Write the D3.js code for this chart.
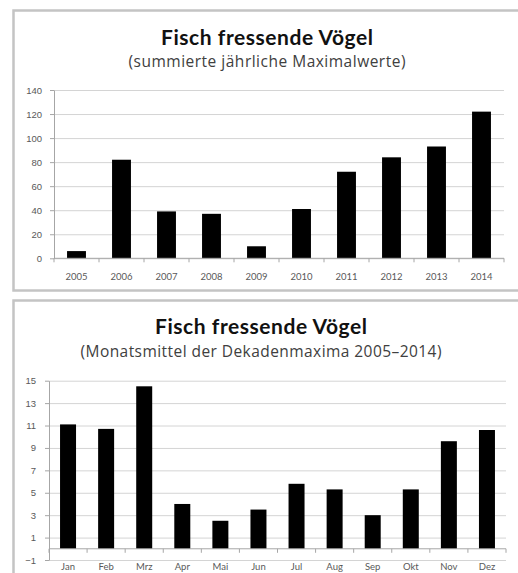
<!DOCTYPE html>
<html>
<head>
<meta charset="utf-8">
<script src="https://cdn.jsdelivr.net/npm/d3@7"></script>
<style>
  body { margin: 0; background: #fff; }
  svg { display: block; font-family: Lato, "Open Sans", sans-serif; }
  .tick text { fill: #595959; }
</style>
</head>
<body>
<svg id="chart" width="518" height="573"></svg>
<script>
// top chart: yearly sums
var years = ["2005", "2006", "2007", "2008", "2009", "2010", "2011", "2012", "2013", "2014"];
var yearValues = [6, 82, 39, 37, 10, 41, 72, 84, 93, 122];
var yearTicks = [0, 20, 40, 60, 80, 100, 120, 140];

// bottom chart: monthly means
var months = ["Jan", "Feb", "Mrz", "Apr", "Mai", "Jun", "Jul", "Aug", "Sep", "Okt", "Nov", "Dez"];
var monthValues = [11.1, 10.7, 14.5, 4.0, 2.5, 3.5, 5.8, 5.3, 3.0, 5.3, 9.6, 10.6];
var monthTicks = [-1, 1, 3, 5, 7, 9, 11, 13, 15];

var svg = d3.select("#chart");

function drawPanel(opt) {
  var g = svg.append("g");

  // chart area frame
  g.append("rect")
    .attr("x", 13.5).attr("y", opt.top + 0.5)
    .attr("width", 520).attr("height", opt.panelHeight)
    .attr("fill", "#fff")
    .attr("stroke", "#c4c4c4")
    .attr("stroke-width", 2.5);

  g.append("text")
    .attr("x", opt.titleX).attr("y", opt.titleY)
    .attr("text-anchor", "middle")
    .attr("font-weight", "bold")
    .attr("font-size", 21)
    .attr("textLength", 212)
    .attr("lengthAdjust", "spacing")
    .attr("fill", "#111")
    .text("Fisch fressende Vögel");

  g.append("text")
    .attr("x", opt.titleX).attr("y", opt.subY)
    .attr("text-anchor", "middle")
    .attr("font-size", 15.5)
    .attr("font-family", "'Open Sans', sans-serif")
    .attr("textLength", opt.subWidth)
    .attr("lengthAdjust", "spacing")
    .attr("fill", "#404040")
    .text(opt.subtitle);

  var x = d3.scaleBand()
    .domain(opt.cats)
    .range(opt.xRange)
    .paddingInner(0.58)
    .paddingOuter(0.29);

  var y = d3.scaleLinear()
    .domain(opt.yDomain)
    .range(opt.yRange);

  // gridlines
  g.append("g")
    .attr("transform", `translate(${opt.xRange[0]},0)`)
    .call(d3.axisLeft(y).tickValues(opt.ticks).tickSize(-(opt.xRange[1] - opt.xRange[0])).tickFormat(""))
    .call(s => s.select(".domain").remove())
    .selectAll("line").attr("stroke", "#d4d4d4");

  // y axis
  var ya = g.append("g")
    .attr("transform", `translate(${opt.xRange[0]},0)`)
    .call(d3.axisLeft(y).tickValues(opt.ticks).tickSize(4).tickPadding(opt.yPad).tickSizeOuter(0));
  ya.select(".domain").attr("stroke", "#a6a6a6");
  ya.selectAll("line").attr("stroke", "#a6a6a6");
  ya.selectAll("text").attr("font-size", 9.5);

  // bars
  g.selectAll(".bar")
    .data(opt.values)
    .enter().append("rect")
    .attr("class", "bar")
    .attr("x", (d, i) => x(opt.cats[i]))
    .attr("y", d => y(d))
    .attr("width", x.bandwidth())
    .attr("height", d => y(0) - y(d))
    .attr("fill", "#000");

  // x axis line at zero
  var x0 = y(0);
  g.append("line")
    .attr("x1", opt.xRange[0]).attr("x2", opt.xRange[1])
    .attr("y1", x0).attr("y2", x0)
    .attr("stroke", "#a6a6a6");

  // category boundary ticks
  var step = x.step();
  g.selectAll(".ctick")
    .data(d3.range(opt.cats.length + 1))
    .enter().append("line")
    .attr("x1", i => opt.xRange[0] + i * step)
    .attr("x2", i => opt.xRange[0] + i * step)
    .attr("y1", x0).attr("y2", x0 + 4)
    .attr("stroke", "#a6a6a6");

  // category labels
  g.selectAll(".clab")
    .data(opt.cats)
    .enter().append("text")
    .attr("x", d => x(d) + x.bandwidth() / 2)
    .attr("y", opt.labelY)
    .attr("text-anchor", "middle")
    .attr("font-size", 9.5)
    .attr("fill", "#595959")
    .text(d => d);
}

drawPanel({
  top: 10, panelHeight: 280,
  titleX: 267, titleY: 45, subY: 67, subWidth: 277,
  subtitle: "(summierte jährliche Maximalwerte)",
  cats: years, values: yearValues, ticks: yearTicks,
  xRange: [54, 504], yDomain: [0, 140], yRange: [258.3, 90],
  yPad: 8, labelY: 280
});

drawPanel({
  top: 300, panelHeight: 300,
  titleX: 261, titleY: 334, subY: 357, subWidth: 361,
  subtitle: "(Monatsmittel der Dekadenmaxima 2005–2014)",
  cats: months, values: monthValues, ticks: monthTicks,
  xRange: [49, 506], yDomain: [-1, 15], yRange: [560, 380.7],
  yPad: 9, labelY: 570
});
</script>
</body>
</html>
